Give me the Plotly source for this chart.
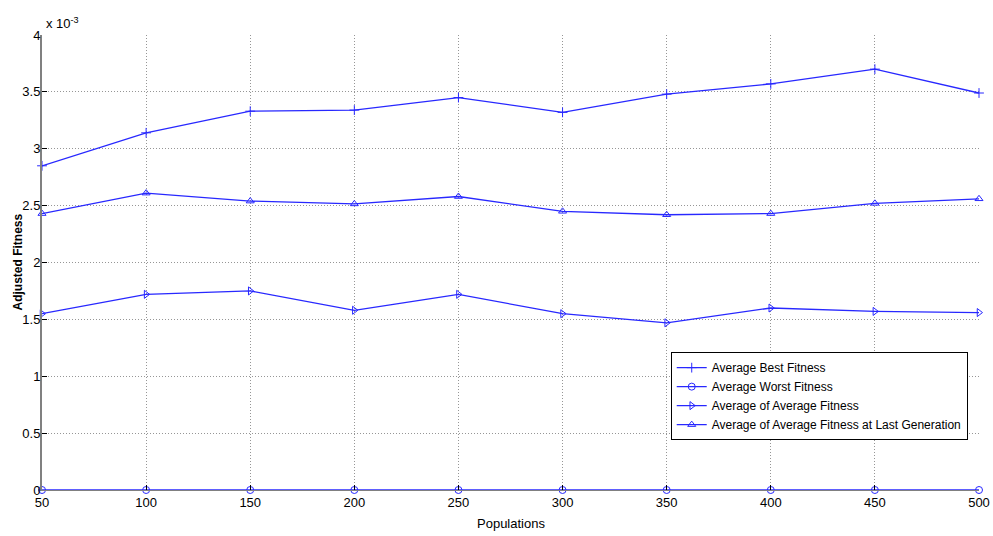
import plotly.graph_objects as go

populations = [50, 100, 150, 200, 250, 300, 350, 400, 450, 500]

# values in units of 1e-3
best_fitness = [2.85, 3.14, 3.33, 3.34, 3.45, 3.32, 3.48, 3.57, 3.70, 3.49]
worst_fitness = [0, 0, 0, 0, 0, 0, 0, 0, 0, 0]
avg_fitness = [1.55, 1.72, 1.75, 1.58, 1.72, 1.55, 1.47, 1.60, 1.57, 1.56]
avg_last_gen = [2.43, 2.61, 2.54, 2.515, 2.58, 2.45, 2.42, 2.43, 2.52, 2.56]

blue = 'rgb(40,40,255)'
font = 'Liberation Sans Narrow, Arial Narrow, Liberation Sans, Arial, sans-serif'
grid = 'rgb(150,150,150)'

fig = go.Figure()
series = [
    ('Average Best Fitness', best_fitness, 'cross-thin-open'),
    ('Average Worst Fitness', worst_fitness, 'circle-open'),
    ('Average of Average Fitness', avg_fitness, 'triangle-right-open'),
    ('Average of Average Fitness at Last Generation', avg_last_gen, 'triangle-up-open'),
]
for name, vals, sym in series:
    fig.add_trace(go.Scatter(
        x=populations, y=vals, name=name, mode='lines+markers',
        line=dict(color=blue, width=1.3),
        marker=dict(symbol=sym, size=7, color=blue, line=dict(color=blue, width=1)),
        cliponaxis=False,
    ))

fig.update_layout(
    width=993, height=536,
    margin=dict(l=42, r=14, t=35, b=46),
    plot_bgcolor='white', paper_bgcolor='white',
    font=dict(family=font, size=13, color='black'),
    legend=dict(x=0.671, y=0.303, xanchor='left', yanchor='top',
                bgcolor='white', bordercolor='black', borderwidth=1,
                font=dict(size=12), tracegroupgap=0, itemwidth=30),
    annotations=[
        dict(text='x 10<sup>-3</sup>', x=0, y=1, xref='paper', yref='paper',
             xanchor='left', yanchor='bottom', xshift=2, yshift=2,
             showarrow=False, font=dict(size=13)),
        dict(text='<b>Adjusted Fitness</b>', x=0, y=0.5, xref='paper', yref='paper',
             xanchor='center', yanchor='middle', xshift=-25, textangle=-90,
             showarrow=False, font=dict(size=12)),
        dict(text='Populations', x=0.5, y=0, xref='paper', yref='paper',
             xanchor='center', yanchor='top', yshift=-24,
             showarrow=False, font=dict(size=13)),
    ],
)
fig.update_xaxes(
    range=[50, 500], tickvals=populations, ticks='inside', ticklen=5,
    tickcolor='black', showline=True, linecolor='gray', zeroline=False,
    showgrid=True, gridcolor=grid, griddash='1px,2px', gridwidth=1,
    automargin=False, ticklabeloverflow='allow', ticklabelstandoff=0,
)
fig.update_yaxes(
    range=[0, 4], tickvals=[0, 0.5, 1, 1.5, 2, 2.5, 3, 3.5, 4],
    ticktext=['0', '0.5', '1', '1.5', '2', '2.5', '3', '3.5', '4'],
    ticks='inside', ticklen=5, tickcolor='black',
    showline=True, linecolor='gray', linewidth=2, zeroline=False,
    showgrid=True, gridcolor=grid, griddash='1px,2px', gridwidth=1,
    automargin=False, ticklabeloverflow='allow', ticklabelstandoff=-3,
)

# drop the page's default body margin so the 993x536 figure fills the window
fig.write_html('out.html', config={'displayModeBar': False},
               post_script="document.body.style.margin='0';")
